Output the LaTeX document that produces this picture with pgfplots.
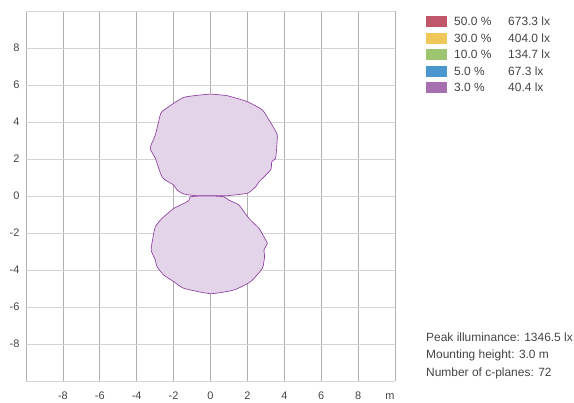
\documentclass[border=0pt]{standalone}
\usepackage{pgfplots}
\pgfplotsset{compat=1.18}
\usepackage{fontspec}
\setmainfont{Liberation Sans}
\definecolor{ticktxt}{HTML}{444444}
\definecolor{vgrid}{HTML}{B0B0B0}
\definecolor{hgrid}{HTML}{D4D4D4}
\definecolor{lobeline}{HTML}{8B3D9E}
\definecolor{lobefill}{HTML}{E4D4E9}
\definecolor{cA}{HTML}{C0566A}
\definecolor{cB}{HTML}{F0C75A}
\definecolor{cC}{HTML}{9DC46E}
\definecolor{cD}{HTML}{4A97CF}
\definecolor{cE}{HTML}{A56FB0}
\begin{document}
\begin{tikzpicture}[x=1bp,y=1bp]
\useasboundingbox (0,0) rectangle (574,402);
\begin{axis}[
  at={(26bp,21bp)}, anchor=south west,
  scale only axis, width=369bp, height=370bp,
  xmin=-10, xmax=10, ymin=-10, ymax=10,
  axis line style={draw=none},
  xtick={-10,-8,...,10}, ytick={-10,-8,...,10},
  xticklabels={{},-8,-6,-4,-2,0,2,4,6,8,{m\hspace*{10bp}}},
  yticklabels={{},-8,-6,-4,-2,0,2,4,6,8,{}},
  major tick length=0pt,
  grid=major,
  major x grid style={draw=vgrid, line width=0.8pt},
  major y grid style={draw=hgrid, line width=0.9pt},
  tick label style={font=\fontsize{11}{13}\selectfont, text=ticktxt},
  /pgf/number format/assume math mode=true,
  xticklabel style={yshift=-7bp, text height=8bp, text depth=0pt},
  yticklabel style={xshift=-3bp},
]
\addplot[draw=lobeline, fill=lobefill, line width=0.65pt, smooth, tension=0.3] coordinates {
(0,5.51) (0.91,5.42) (1.99,5.10) (2.81,4.65) (3.17,4.11) (3.44,3.66) (3.62,3.30)
(3.59,2.67) (3.53,2.04) (3.32,1.85) (3.26,1.41) (2.63,0.77) (2.45,0.50) (2.0,0.15)
(0.91,0.02) (0,0.02) (-0.82,0.02) (-1.45,0.11) (-1.81,0.32) (-1.99,0.59) (-2.45,0.86)
(-2.63,1.04) (-2.81,1.50) (-2.99,2.04) (-3.26,2.52) (-3.22,2.76) (-2.99,3.30)
(-2.81,4.02) (-2.63,4.56) (-1.45,5.33) (0,5.51)
};
\addplot[draw=lobeline, fill=lobefill, line width=0.65pt, smooth, tension=0.3] coordinates {
(0.09,0) (0.72,-0.04) (0.99,-0.22) (1.54,-0.49) (2.08,-1.21) (2.63,-1.75) (2.99,-2.38)
(3.08,-2.56) (2.90,-2.92) (2.93,-3.28) (2.81,-3.91) (2.17,-4.63) (1.27,-5.08)
(0,-5.28) (-1.45,-4.99) (-1.99,-4.63) (-2.54,-4.27) (-2.90,-3.82) (-2.99,-3.46)
(-3.22,-2.92) (-3.11,-2.20) (-2.99,-1.66) (-2.63,-1.21) (-1.99,-0.67) (-1.45,-0.40)
(-1.18,-0.25) (-1.09,-0.04) (-0.5,0) (0.09,0)
};
\end{axis}
\begin{scope}[every node/.style={font=\fontsize{12}{14}\selectfont, text=ticktxt, inner sep=0pt, anchor=west}]
\foreach \c/\p/\l [count=\i] in {cA/50.0 \%/673.3 lx, cB/30.0 \%/404.0 lx, cC/10.0 \%/134.7 lx, cD/5.0 \%/67.3 lx, cE/3.0 \%/40.4 lx}{
  \pgfmathsetmacro\yy{402-21.5-16.5*(\i-1)}
  \fill[\c] (426,\yy-5.5) rectangle (447,\yy+5.5);
  \node at (454,\yy) {\p};
  \node at (508,\yy) {\l};
}
\node at (426,402-337) {Peak illuminance: 1346.5 lx};
\node at (426,402-355.5) {Mounting height: 3.0 m};
\node at (426,402-373) {Number of c-planes: 72};
\end{scope}
\end{tikzpicture}
\end{document}
